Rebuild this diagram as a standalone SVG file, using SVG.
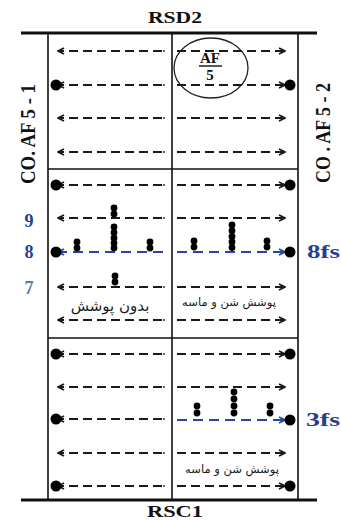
<svg xmlns="http://www.w3.org/2000/svg" width="341" height="520" viewBox="0 0 341 520">
<style>
.frame{stroke:#111;stroke-width:1.6;fill:none}
.thick{stroke:#111;stroke-width:3.2;fill:none}
.dash{stroke:#1a1a1a;stroke-width:1.9;fill:none;stroke-dasharray:9 5}
.bdash{stroke:#2844a8;stroke-width:2;fill:none;stroke-dasharray:10 6}
.end{fill:#222}
.big{fill:#000}
.pt{fill:#000}
.lbl{font-family:"Liberation Serif",serif;font-weight:bold;fill:#111}
.blue{font-family:"Liberation Serif",serif;font-weight:bold;fill:#24408f}
.fa{font-family:"DejaVu Sans","Noto Sans",sans-serif;fill:#1a1a1a}
</style>
<defs>
<marker id="ah" viewBox="0 0 8 8" refX="7" refY="4" markerWidth="8" markerHeight="8" markerUnits="userSpaceOnUse" orient="auto">
<path d="M1,1 L7,4 L1,7" fill="none" stroke="#1a1a1a" stroke-width="1.8"/>
</marker>
<marker id="bh" viewBox="0 0 8 8" refX="7" refY="4" markerWidth="8" markerHeight="8" markerUnits="userSpaceOnUse" orient="auto">
<path d="M1,1 L7,4 L1,7" fill="none" stroke="#2844a8" stroke-width="1.8"/>
</marker>
</defs>
<rect width="341" height="520" fill="#fff"/>

<g id="frame">
<line class="thick" x1="21" y1="33" x2="317" y2="33"/>
<line class="thick" x1="21" y1="500" x2="317" y2="500"/>
<line class="frame" x1="48" y1="33" x2="48" y2="500"/>
<line class="frame" x1="298" y1="33" x2="298" y2="500"/>
<line class="frame" x1="172" y1="33" x2="172" y2="500"/>
<line class="frame" x1="48" y1="169" x2="298" y2="169"/>
<line class="frame" x1="48" y1="338" x2="298" y2="338"/>
</g>

<g id="titles">
<text class="lbl" x="175" y="23" font-size="16" text-anchor="middle" textLength="54" lengthAdjust="spacingAndGlyphs">RSD2</text>
<text class="lbl" x="175" y="517" font-size="16" text-anchor="middle" textLength="56" lengthAdjust="spacingAndGlyphs">RSC1</text>
<text class="lbl" transform="translate(35,134) rotate(-90)" font-size="20" text-anchor="middle" textLength="100" lengthAdjust="spacingAndGlyphs">CO. AF 5 - 1</text>
<text class="lbl" transform="translate(330,133) rotate(-90)" font-size="20" text-anchor="middle" textLength="100" lengthAdjust="spacingAndGlyphs">CO . AF 5 - 2</text>
</g>

<g id="af5">
<ellipse cx="211" cy="68" rx="37" ry="30" fill="none" stroke="#222" stroke-width="1.3"/>
<text class="lbl" x="210" y="63" font-size="15" text-anchor="middle">AF</text>
<line x1="199" y1="66" x2="222" y2="66" stroke="#111" stroke-width="1.4"/>
<text class="lbl" x="210" y="80" font-size="15" text-anchor="middle">5</text>
</g>

<g id="connectors">
<!-- section 1 -->
<path class="dash" d="M162,51 H58" marker-end="url(#ah)"/><circle class="end" cx="164" cy="51" r="0.9"/>
<path class="dash" d="M177,51 H285" marker-end="url(#ah)"/>
<path class="dash" d="M162,85 H58" marker-end="url(#ah)"/><circle class="end" cx="164" cy="85" r="0.9"/>
<path class="dash" d="M177,85 H285" marker-end="url(#ah)"/>
<path class="dash" d="M162,118 H58" marker-end="url(#ah)"/><circle class="end" cx="164" cy="118" r="0.9"/>
<path class="dash" d="M177,118 H285" marker-end="url(#ah)"/>
<path class="dash" d="M162,152 H58" marker-end="url(#ah)"/><circle class="end" cx="164" cy="152" r="0.9"/>
<path class="dash" d="M177,152 H285" marker-end="url(#ah)"/>
<!-- section 2 -->
<path class="dash" d="M162,185 H58" marker-end="url(#ah)"/><circle class="end" cx="164" cy="185" r="0.9"/>
<path class="dash" d="M177,185 H285" marker-end="url(#ah)"/>
<path class="dash" d="M162,218 H58" marker-end="url(#ah)"/><circle class="end" cx="164" cy="218" r="0.9"/>
<path class="dash" d="M177,218 H285" marker-end="url(#ah)"/>
<path class="bdash" d="M163,252 H58" marker-end="url(#bh)"/>
<path class="bdash" d="M177,252 H285" marker-end="url(#bh)"/>
<path class="dash" d="M162,287 H58" marker-end="url(#ah)"/><circle class="end" cx="164" cy="287" r="0.9"/>
<path class="dash" d="M177,287 H285" marker-end="url(#ah)"/>
<path class="dash" d="M162,320 H58" marker-end="url(#ah)"/><circle class="end" cx="164" cy="320" r="0.9"/>
<path class="dash" d="M177,320 H285" marker-end="url(#ah)"/>
<!-- section 3 -->
<path class="dash" d="M162,354 H58" marker-end="url(#ah)"/><circle class="end" cx="164" cy="354" r="0.9"/>
<path class="dash" d="M177,354 H285" marker-end="url(#ah)"/>
<path class="dash" d="M162,387 H58" marker-end="url(#ah)"/><circle class="end" cx="164" cy="387" r="0.9"/>
<path class="dash" d="M177,387 H285" marker-end="url(#ah)"/>
<path class="dash" d="M162,419 H58" marker-end="url(#ah)"/><circle class="end" cx="164" cy="419" r="0.9"/>
<path class="bdash" d="M177,420 H285" marker-end="url(#bh)"/>
<path class="dash" d="M162,453 H58" marker-end="url(#ah)"/><circle class="end" cx="164" cy="453" r="0.9"/>
<path class="dash" d="M177,453 H285" marker-end="url(#ah)"/>
<path class="dash" d="M162,486 H58" marker-end="url(#ah)"/><circle class="end" cx="164" cy="486" r="0.9"/>
<path class="dash" d="M177,486 H285" marker-end="url(#ah)"/>
</g>

<g id="edge-dots">
<circle class="big" cx="56" cy="85" r="5.5"/><circle class="big" cx="290" cy="85" r="5.5"/>
<circle class="big" cx="56" cy="185" r="5.5"/><circle class="big" cx="290" cy="185" r="5.5"/>
<circle class="big" cx="56" cy="252" r="5.5"/><circle class="big" cx="290" cy="252" r="5.5"/>
<circle class="big" cx="56" cy="354" r="5.5"/><circle class="big" cx="290" cy="354" r="5.5"/>
<circle class="big" cx="56" cy="419" r="5.5"/><circle class="big" cx="290" cy="420" r="5.5"/>
<circle class="big" cx="56" cy="486" r="5.5"/><circle class="big" cx="290" cy="486" r="5.5"/>
</g>

<g id="samples-s2-left">
<circle class="pt" cx="77" cy="242" r="3.4"/><circle class="pt" cx="77" cy="248" r="3.4"/>
<circle class="pt" cx="114" cy="208" r="3.4"/><circle class="pt" cx="114" cy="214" r="3.4"/>
<circle class="pt" cx="114" cy="227" r="3.4"/><circle class="pt" cx="114" cy="232.5" r="3.4"/><circle class="pt" cx="114" cy="238" r="3.4"/><circle class="pt" cx="114" cy="243" r="3.4"/><circle class="pt" cx="114" cy="248" r="3.4"/>
<circle class="pt" cx="150" cy="242" r="3.4"/><circle class="pt" cx="150" cy="248" r="3.4"/>
<circle class="pt" cx="115" cy="276" r="3.4"/><circle class="pt" cx="115" cy="282" r="3.4"/>
</g>

<g id="samples-s2-right">
<circle class="pt" cx="194" cy="241" r="3.4"/><circle class="pt" cx="194" cy="247" r="3.4"/>
<circle class="pt" cx="232" cy="225" r="3.4"/><circle class="pt" cx="232" cy="230.7" r="3.4"/><circle class="pt" cx="232" cy="236.5" r="3.4"/><circle class="pt" cx="232" cy="242" r="3.4"/><circle class="pt" cx="232" cy="247.5" r="3.4"/>
<circle class="pt" cx="267" cy="241" r="3.4"/><circle class="pt" cx="267" cy="247" r="3.4"/>
</g>

<g id="samples-s3-right">
<circle class="pt" cx="197" cy="406" r="3.4"/><circle class="pt" cx="197" cy="413" r="3.4"/>
<circle class="pt" cx="234" cy="392" r="3.4"/><circle class="pt" cx="234" cy="399" r="3.4"/><circle class="pt" cx="234" cy="406" r="3.4"/><circle class="pt" cx="234" cy="413" r="3.4"/>
<circle class="pt" cx="270" cy="406" r="3.4"/><circle class="pt" cx="270" cy="413" r="3.4"/>
</g>

<g id="labels">
<text class="blue" x="29" y="227" font-size="18" text-anchor="middle">9</text>
<text class="blue" x="29" y="258" font-size="18" text-anchor="middle">8</text>
<text class="blue" x="29" y="294" font-size="18" text-anchor="middle" style="fill:#5a76a6">7</text>
<text class="blue" x="307" y="258" font-size="18" textLength="33" lengthAdjust="spacingAndGlyphs">8fs</text>
<text class="blue" x="306" y="426" font-size="18" textLength="34" lengthAdjust="spacingAndGlyphs">3fs</text>
<text class="fa" x="110" y="311" font-size="15" text-anchor="middle">بدون پوشش</text>
<text class="fa" x="229" y="306" font-size="11.5" text-anchor="middle">پوشش شن و ماسه</text>
<text class="fa" x="232" y="473" font-size="11.5" text-anchor="middle">پوشش شن و ماسه</text>
</g>
</svg>
